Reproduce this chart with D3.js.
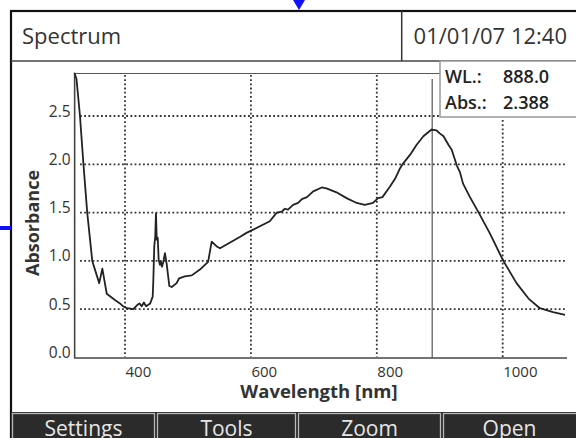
<!DOCTYPE html>
<html><head><meta charset="utf-8">
<script src="https://cdn.jsdelivr.net/npm/d3@7"></script>
<style>html,body{margin:0;padding:0;background:#fff;}svg{display:block;font-family:"Open Sans",sans-serif;}</style>
</head><body>
<script>
// ---- data ----
const wavelengths = [320,323,328.5,330,334,340,348,359,364,371,384,392,397,403,413,419,423,426.5,430,433.5,440,444,445,446.5,448,449.2,450.4,452,453.5,455.6,457.2,458.8,460.8,463.5,466.2,470.4,474.2,482,486,495,506,519,532,537.7,545.7,551,583,593,630,641,649,654,659,667,675,681,689,699,712.5,720,736,752,768,781,794,802,809,821,829,837,842,853,863,874,887,895,900,906,914,919,927,932,937,948,961,980,1001,1022,1041,1059,1080,1099];
const absorbance = [2.94,2.88,2.50,2.36,2.00,1.50,1.00,0.77,0.92,0.66,0.595,0.56,0.53,0.51,0.50,0.54,0.56,0.53,0.57,0.53,0.56,0.63,0.80,1.15,1.25,1.49,1.22,1.24,1.01,0.96,0.99,0.94,0.99,1.08,0.97,0.74,0.73,0.77,0.82,0.84,0.85,0.91,0.99,1.20,1.15,1.13,1.25,1.29,1.41,1.50,1.51,1.54,1.53,1.58,1.60,1.64,1.66,1.72,1.76,1.75,1.71,1.65,1.60,1.58,1.60,1.65,1.66,1.77,1.85,1.96,2.01,2.10,2.20,2.29,2.36,2.35,2.32,2.29,2.20,2.15,1.99,1.92,1.80,1.66,1.51,1.28,1.00,0.77,0.61,0.51,0.47,0.44];
const xTicks = [400,600,800,1000];
const yTicks = [0.0,0.5,1.0,1.5,2.0,2.5];
const cursorWL = 888.0;
const cursorAbs = 2.388;
const title = "Spectrum";
const dateText = "01/01/07 12:40";
const buttons = ["Settings","Tools","Zoom","Open"];
const xTitle = "Wavelength [nm]";
const yTitle = "Absorbance";

// ---- drawing ----
const W = 576, H = 438;
const svg = d3.select("body").append("svg").attr("width", W).attr("height", H);

const x = d3.scaleLinear().domain([400,1000]).range([125,502.7]);
const y = d3.scaleLinear().domain([0,2.5]).range([357.5,116]);
const xMin = 320, xMax = 1100;

// frame
svg.append("rect").attr("x",11).attr("y",11).attr("width",W).attr("height",H).attr("fill","#fff").attr("stroke","#111").attr("stroke-width",2.2);
// header
svg.append("line").attr("x1",11).attr("x2",W).attr("y1",61).attr("y2",61).attr("stroke","#444").attr("stroke-width",1.5);
svg.append("line").attr("x1",401.7).attr("x2",401.7).attr("y1",11).attr("y2",61).attr("stroke","#333").attr("stroke-width",1.5);
svg.append("text").attr("x",22).attr("y",44).attr("font-size",22).attr("fill","#333").text(title);
svg.append("text").attr("x",567).attr("y",44).attr("text-anchor","end").attr("font-size",22).attr("fill","#333").text(dateText);

// blue markers
svg.append("path").attr("d","M293,0 L305,0 L299,10 Z").attr("fill","#1010ff");
svg.append("rect").attr("x",0).attr("y",226).attr("width",11).attr("height",4).attr("fill","#1010ff");

const g = svg.append("g");
// vertical dotted grid
g.selectAll(".vg").data(xTicks).join("line")
  .attr("x1",d=>x(d)).attr("x2",d=>x(d))
  .attr("y1",d=> d===1000 ? 120 : 75).attr("y2",357)
  .attr("stroke","#333").attr("stroke-width",1.8).attr("stroke-dasharray","1.8 2.4");
// horizontal dotted grid
g.selectAll(".hg").data(yTicks.filter(d=>d>0)).join("line")
  .attr("x1",80).attr("x2",567)
  .attr("y1",d=>y(d)).attr("y2",d=>y(d))
  .attr("stroke","#333").attr("stroke-width",1.8).attr("stroke-dasharray","1.8 2.4");

// axes
const xAxis = d3.axisBottom(x).tickValues(xTicks).tickSize(0).tickFormat(d3.format("d"));
const xg = svg.append("g").attr("transform","translate(0,358)").call(xAxis);
xg.select(".domain").attr("d",`M${x(xMin)-0.5},0H567`).attr("stroke","#444").attr("stroke-width",1.6);
xg.selectAll("text").attr("text-anchor","start").attr("dy",0).attr("y",19).attr("font-size",15).attr("font-family","Open Sans").attr("fill","#333");

const yAxis = d3.axisLeft(y).tickValues(yTicks).tickSize(0).tickFormat(d3.format(".1f"));
const yg = svg.append("g").attr("transform",`translate(${x(xMin)},0)`).call(yAxis);
yg.select(".domain").attr("d",`M0,358V${y(2.95)}`).attr("stroke","#444").attr("stroke-width",1.6);
yg.selectAll("text").attr("x",-4).attr("dy",0).attr("y",0).attr("font-size",15.5).attr("font-family","Open Sans").attr("fill","#333");

// axis titles
svg.append("text").attr("x",319).attr("y",398).attr("text-anchor","middle").attr("font-size",18.5).attr("font-weight","bold").attr("fill","#333").text(xTitle);
svg.append("text").attr("transform","translate(39,223) rotate(-90)").attr("text-anchor","middle").attr("font-size",18).attr("font-weight","bold").attr("fill","#333").text(yTitle);

// cursor lines
const peakAbs = d3.max(absorbance);
svg.append("line").attr("x1",x(xMin)).attr("x2",565).attr("y1",y(peakAbs)).attr("y2",y(peakAbs)).attr("stroke","#555").attr("stroke-width",1.2);
svg.append("line").attr("x1",x(cursorWL)).attr("x2",x(cursorWL)).attr("y1",79).attr("y2",358).attr("stroke","#555").attr("stroke-width",1.2);

// spectrum line
const line = d3.line().x((d,i)=>x(wavelengths[i])).y(d=>y(d));
svg.append("path").datum(absorbance).attr("d",line).attr("fill","none").attr("stroke","#222").attr("stroke-width",1.8).attr("stroke-linejoin","round");

// info box
svg.append("rect").attr("x",440).attr("y",61).attr("width",W-440+5).attr("height",56).attr("fill","#fff").attr("stroke","#999").attr("stroke-width",1.5);
const info = [["WL.:", cursorWL.toFixed(1), 83],["Abs.:", cursorAbs.toFixed(3), 109]];
info.forEach(r=>{
  svg.append("text").attr("x",445).attr("y",r[2]).attr("font-size",18).attr("font-weight",600).attr("fill","#222").text(r[0]);
  svg.append("text").attr("x",503).attr("y",r[2]).attr("font-size",18).attr("font-weight",600).attr("fill","#222").text(r[1]);
});

// button bar
svg.append("rect").attr("x",11).attr("y",412).attr("width",W-11).attr("height",H-412).attr("fill","#262626");
const bx = [[12,155],[157,296],[298,441],[443,580]];
bx.forEach((b,i)=>{
  svg.append("rect").attr("x",b[0]+0.5).attr("y",413.5).attr("width",b[1]-b[0]-1).attr("height",40).attr("fill","#2b2b2b").attr("stroke","#b8b8b8").attr("stroke-width",1.3);
  svg.append("text").attr("x",(b[0]+Math.min(b[1],576))/2).attr("y",436).attr("text-anchor","middle").attr("font-size",21).attr("fill","#e6e6e6").text(buttons[i]);
});
</script>
</body></html>
